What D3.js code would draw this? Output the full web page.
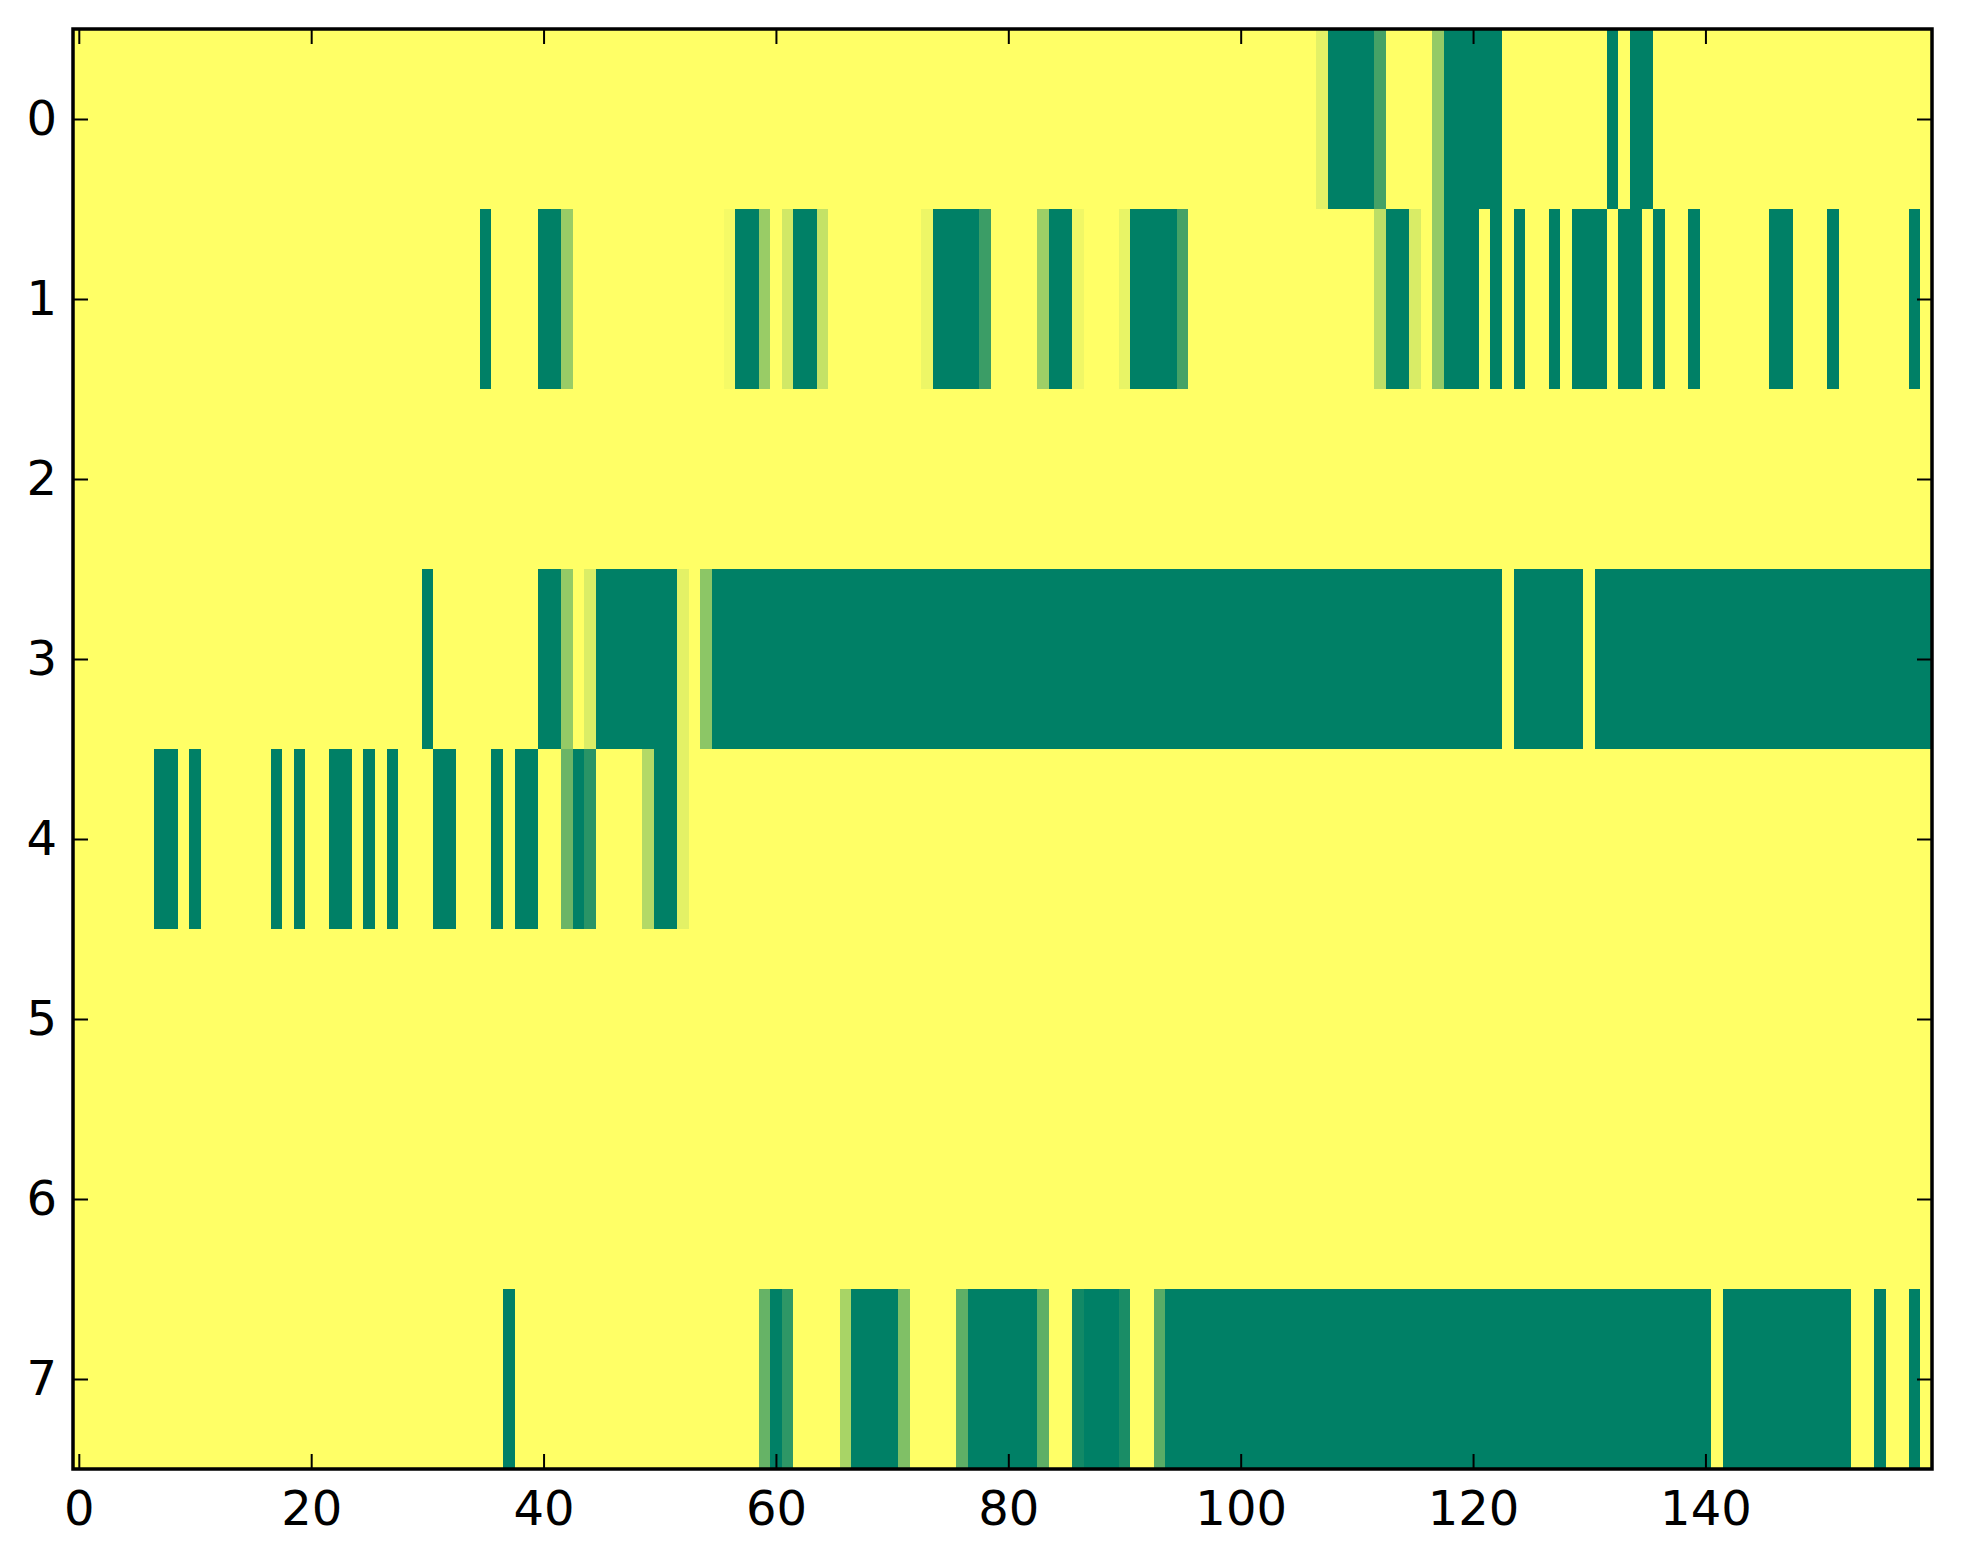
<!DOCTYPE html>
<html lang="en">
<head>
    <meta charset="UTF-8">
    <title>Heatmap</title>
    <script src="https://cdn.jsdelivr.net/npm/d3@7"></script>
    <style>
        body { margin: 0; background: #fff; }
        #chart { width: 1963px; height: 1564px; }
        .tick text { font-family: "DejaVu Sans", sans-serif; font-size: 48px; fill: #000; }
    </style>
</head>
<body>
<div id="chart"></div>
<script type="text/javascript">
    // number of columns, row labels, tick labels
    var nCols = 160;
    var rowLabels = [0, 1, 2, 3, 4, 5, 6, 7];
    var xTicks = [0, 20, 40, 60, 80, 100, 120, 140];

    // runs per row: [first column, last column, value]  (0 = yellow, 1 = green)
    var row0 = [[107,107,0.11],[108,111,1],[112,112,0.73],[117,117,0.42],[118,122,1],[132,132,1],[134,135,1]];
    var row1 = [[35,35,1],[40,41,1],[42,42,0.4],[56,56,0.04],[57,58,1],[59,59,0.4],[61,61,0.18],[62,63,1],[64,64,0.23],
                [73,73,0.07],[74,77,1],[78,78,0.77],[83,83,0.38],[84,85,1],[86,86,0.06],[90,90,0.09],[91,94,1],[95,95,0.73],
                [112,112,0.26],[113,114,1],[115,115,0.15],[117,117,0.42],[118,120,1],[122,122,1],[124,124,1],[127,127,1],
                [129,131,1],[133,134,1],[136,136,1],[139,139,1],[146,147,1],[151,151,1],[158,158,1]];
    var row2 = [];
    var row3 = [[30,30,1],[40,41,1],[42,42,0.42],[44,44,0.14],[45,51,1],[52,52,0.11],[54,54,0.45],[55,122,1],
                [124,129,1],[131,159,1]];
    var row4 = [[7,8,1],[10,10,1],[17,17,1],[19,19,1],[22,23,1],[25,25,1],[27,27,1],[31,32,1],[36,36,1],[38,39,1],
                [42,42,0.58],[43,43,1],[44,44,0.84],[49,49,0.3],[50,51,1],[52,52,0.11]];
    var row5 = [];
    var row6 = [];
    var row7 = [[37,37,1],[59,59,0.6],[60,60,1],[61,61,0.82],[66,66,0.34],[67,70,1],[71,71,0.5],[76,76,0.63],[77,82,1],
                [83,83,0.63],[86,86,0.93],[87,89,1],[90,90,0.9],[93,93,0.65],[94,140,1],[142,152,1],[155,155,1],[158,158,1]];
    var rows = [row0, row1, row2, row3, row4, row5, row6, row7];

    var svgw = 1963, svgh = 1564;
    var plotL = 73, plotR = 1932, plotT = 29, plotB = 1469;

    var svg = d3.select("#chart")
        .append('svg')
        .attr('width', svgw)
        .attr('height', svgh);

    var x_scale = d3.scaleLinear().domain([-0.5, nCols - 0.5]).range([plotL, plotR]);
    var y_scale = d3.scaleLinear().domain([-0.5, rowLabels.length - 0.5]).range([plotT, plotB]);
    // summer_r colour map
    var color = d3.scaleLinear().domain([0, 1]).range(['#ffff66', '#008066']).interpolate(d3.interpolateRgb);

    // build the cells from the runs
    var cells = [];
    rows.forEach(function (runs, r) {
        var vals = new Array(nCols).fill(0);
        runs.forEach(function (run) {
            for (var c = run[0]; c <= run[1]; c++) vals[c] = run[2];
        });
        vals.forEach(function (v, c) { cells.push({row: r, col: c, v: v}); });
    });

    svg.append('g')
        .attr('shape-rendering', 'crispEdges')
        .selectAll('rect')
        .data(cells)
        .enter()
        .append('rect')
        .attr('x', function (d) { return x_scale(d.col - 0.5); })
        .attr('y', function (d) { return y_scale(d.row - 0.5); })
        .attr('width', function (d) { return x_scale(d.col + 0.5) - x_scale(d.col - 0.5) + 0.3; })
        .attr('height', function (d) { return y_scale(d.row + 0.5) - y_scale(d.row - 0.5) + 0.3; })
        .attr('fill', function (d) { return color(d.v); });

    // axes, ticks pointing inward on all sides
    function styleAxis(g) {
        g.select('.domain').remove();
        g.selectAll('.tick line').attr('stroke', '#000').attr('stroke-width', 2);
        g.selectAll('.tick text').attr('font-family', null).attr('font-size', null);
    }
    svg.append('g').attr('transform', 'translate(0,' + plotB + ')')
        .call(d3.axisBottom(x_scale).tickValues(xTicks).tickSizeInner(-15).tickSizeOuter(0).tickPadding(22))
        .call(styleAxis);
    svg.append('g').attr('transform', 'translate(0,' + plotT + ')')
        .call(d3.axisTop(x_scale).tickValues(xTicks).tickSizeInner(-15).tickSizeOuter(0).tickFormat(''))
        .call(styleAxis);
    svg.append('g').attr('transform', 'translate(' + plotL + ',0)')
        .call(d3.axisLeft(y_scale).tickValues(rowLabels).tickSizeInner(-15).tickSizeOuter(0).tickPadding(16))
        .call(styleAxis);
    svg.append('g').attr('transform', 'translate(' + plotR + ',0)')
        .call(d3.axisRight(y_scale).tickValues(rowLabels).tickSizeInner(-15).tickSizeOuter(0).tickFormat(''))
        .call(styleAxis);

    // frame
    svg.append('rect')
        .attr('x', plotL).attr('y', plotT)
        .attr('width', plotR - plotL).attr('height', plotB - plotT)
        .attr('fill', 'none')
        .attr('stroke', '#000')
        .attr('stroke-width', 3.5);
</script>
</body>
</html>
